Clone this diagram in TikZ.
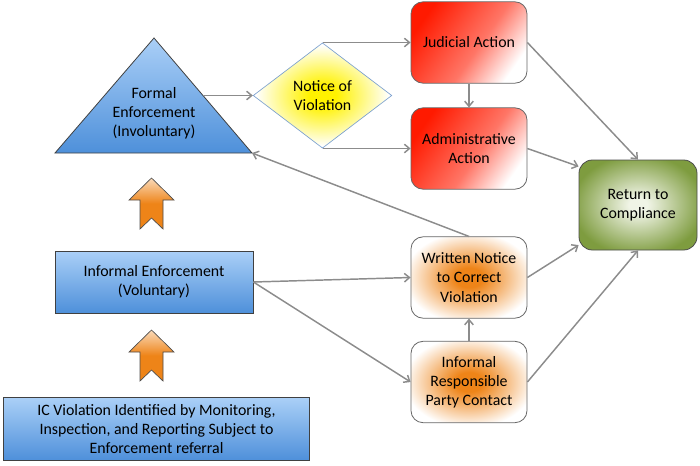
\documentclass[tikz,border=0pt]{standalone}
\usepackage{fontspec}
\setmainfont{Carlito}
\usepackage{xcolor}
\usetikzlibrary{arrows.meta,shapes.geometric}

\definecolor{bTop}{HTML}{AACFF7}
\definecolor{bBot}{HTML}{4E90DA}
\definecolor{aRed}{HTML}{FF1A00}
\definecolor{aOrange}{HTML}{EE8418}
\definecolor{gOut}{HTML}{7E9C3F}
\definecolor{gIn}{HTML}{F0F4E6}
\definecolor{nYellow}{HTML}{FFF200}
\definecolor{nBorder}{HTML}{7BA0CF}
\definecolor{lGray}{HTML}{8C8C8C}

% Verlaeufe
\pgfdeclareverticalshading{redfade}{100bp}{color(0bp)=(white); color(25bp)=(white);
  color(45bp)=(aRed!60!white); color(60bp)=(aRed!80!white); color(75bp)=(aRed); color(100bp)=(aRed)}
\pgfdeclareradialshading{orangeglow}{\pgfpoint{0bp}{0bp}}{color(0bp)=(aOrange); color(6bp)=(aOrange);
  color(28bp)=(white); color(50bp)=(white)}
\pgfdeclareradialshading{greenglow}{\pgfpoint{0bp}{0bp}}{color(0bp)=(gIn); color(4bp)=(gIn);
  color(28bp)=(gOut); color(50bp)=(gOut)}
\pgfdeclareradialshading{yellowglow}{\pgfpoint{0bp}{0bp}}{color(0bp)=(nYellow); color(5bp)=(nYellow);
  color(24bp)=(white); color(50bp)=(white)}

\begin{document}
\begin{tikzpicture}[x=0.75pt,y=-0.75pt,>={Straight Barb[angle=80:5pt]},
  font=\fontsize{11.9}{14.3}\selectfont,
  conn/.style={draw=lGray,line width=1.1pt,->},
  bluebox/.style={draw=black!75,line width=0.6pt,top color=bTop,bottom color=bBot,align=center},
  redbox/.style={rounded corners=9pt,draw=black!60,line width=0.6pt,shading=redfade,shading angle=55,
    minimum width=87pt,minimum height=61pt,align=center},
  orangebox/.style={rounded corners=9pt,draw=black!60,line width=0.6pt,shading=orangeglow,
    minimum width=87pt,minimum height=61pt,align=center},
  upshape/.style={draw=black!70,line width=0.5pt,top color=aOrange!30!white,bottom color=aOrange,middle color=aOrange}]
  \useasboundingbox (0,0) rectangle (700,465);

  % Dreieck: formelle Durchsetzung
  \coordinate (apex) at (154,38);
  \coordinate (bl) at (55,153);
  \coordinate (br) at (252,153);
  \coordinate (fout) at (203,95.5);
  \draw[bluebox] (bl) -- (apex) -- (br) -- cycle;
  \node[align=center] (formal) at (154,113) {Formal\\Enforcement\\(Involuntary)};

  % Raute
  \node[diamond,draw=nBorder,line width=0.5pt,shading=yellowglow,
    minimum width=104pt,minimum height=79pt,inner sep=0pt,align=center] (notice) at (322.5,95.5) {Notice of\\Violation};

  % Kaesten rechts
  \node[redbox] (judicial) at (469,42.5) {Judicial Action};
  \node[redbox] (admin) at (469,148.5) {Administrative\\Action};
  \node[orangebox] (written) at (469,277.5) {Written Notice\\to Correct\\Violation};
  \node[orangebox] (contact) at (469,382) {Informal\\Responsible\\Party Contact};
  \node[rounded corners=10pt,draw=black!70,line width=0.6pt,shading=greenglow,
    minimum width=88.5pt,minimum height=67.5pt,align=center] (comply) at (638,205) {Return to\\Compliance};

  % Kaesten links
  \node[bluebox,minimum width=148.5pt,minimum height=46.5pt] (informal) at (154,282) {Informal Enforcement\\(Voluntary)};
  \node[bluebox,minimum width=230pt,minimum height=47pt] (icv) at (156.5,429)
    {IC Violation Identified by Monitoring,\\Inspection, and Reporting Subject to\\Enforcement referral};

  % Blockpfeile nach oben
  \foreach \y in {178,330}
    \draw[upshape] (151.5,\y) -- (174,\y+22) -- (163,\y+22) -- (163,\y+51) -- (151.5,\y+40)
      -- (140,\y+51) -- (140,\y+22) -- (129,\y+22) -- cycle;

  % Verbindungen
  \draw[conn] (fout) -- (notice.west);
  \draw[conn] (notice.north) -- (judicial.west);
  \draw[conn] (notice.south) -- (admin.west);
  \draw[conn] (judicial) -- (admin);
  \draw[conn] (judicial.east) -- (comply.north);
  \draw[conn] (admin.east) -- (comply.147);
  \draw[conn] (written.east) -- (comply.214);
  \draw[conn] (contact.east) -- (comply.south);
  \draw[conn] (contact) -- (written);
  \draw[conn] (written.north) -- (br);
  \draw[conn] (informal.east) -- (written.west);
  \draw[conn] (informal.east) -- (contact.west);
\end{tikzpicture}
\end{document}
